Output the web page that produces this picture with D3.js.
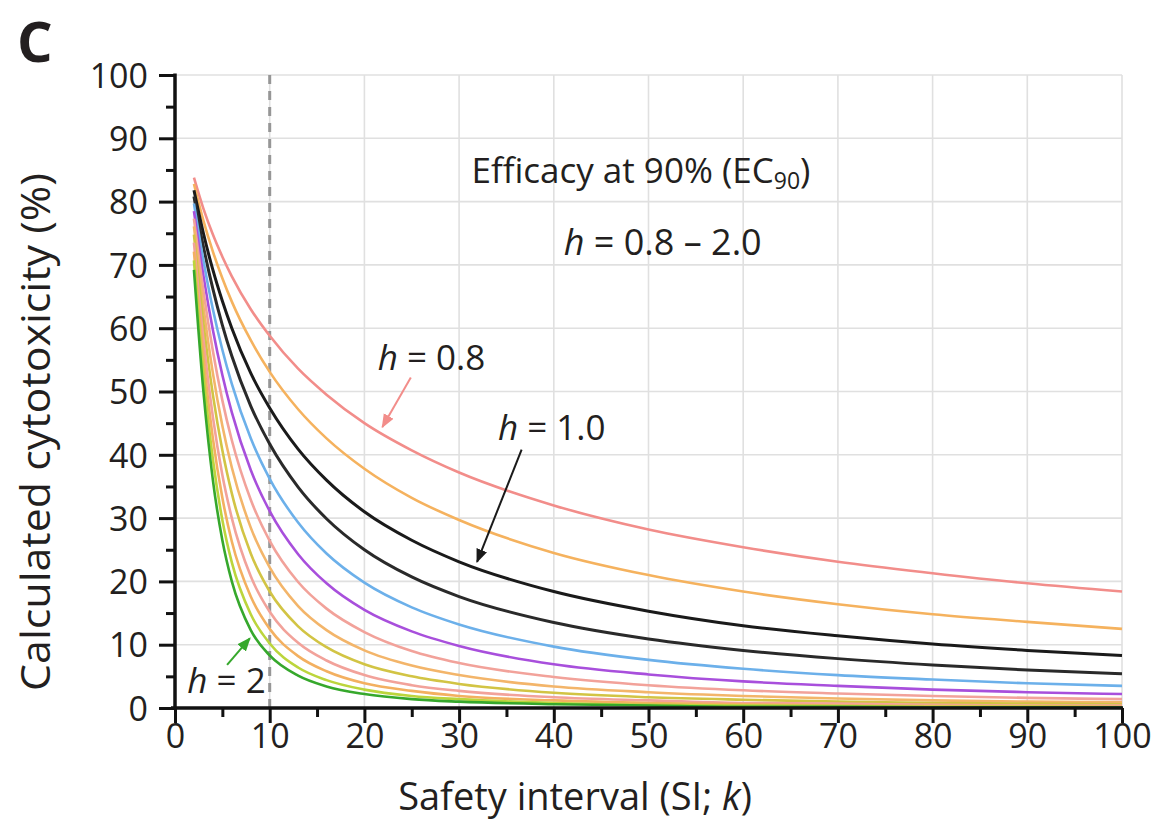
<!DOCTYPE html>
<html>
<head>
<meta charset="utf-8">
<script src="https://cdn.jsdelivr.net/npm/d3@7"></script>
<style>
  html, body { margin: 0; padding: 0; background: #fff; }
  svg text { font-family: "Open Sans", "Noto Sans", sans-serif; fill: #231f20; }
</style>
</head>
<body>
<svg id="chart" width="1159" height="830"></svg>
<script>
// safety interval k where values were read
const siPoints = [2, 3, 4, 5, 6, 8, 10, 13, 16, 20, 25, 30, 40, 50, 60, 70, 80, 90, 100];

// calculated cytotoxicity (%) per hill slope
const tox08 = [83.8, 78.9, 74.8, 71.3, 68.2, 63.0, 58.8, 53.6, 49.5, 45.0, 40.7, 37.2, 32.0, 28.2, 25.4, 23.1, 21.3, 19.7, 18.4];
const tox09 = [82.8, 77.0, 72.1, 67.9, 64.2, 58.1, 53.1, 47.2, 42.6, 37.8, 33.2, 29.7, 24.5, 21.0, 18.4, 16.4, 14.8, 13.6, 12.5];
const tox10 = [81.8, 75.0, 69.2, 64.3, 60.0, 52.9, 47.4, 40.9, 36.0, 31.0, 26.5, 23.1, 18.4, 15.3, 13.0, 11.4, 10.1, 9.1, 8.3];
const tox11 = [80.8, 72.9, 66.2, 60.5, 55.6, 47.7, 41.7, 34.9, 29.9, 25.0, 20.7, 17.6, 13.5, 10.9, 9.1, 7.8, 6.8, 6.0, 5.4];
const tox12 = [79.7, 70.7, 63.0, 56.6, 51.2, 42.6, 36.2, 29.3, 24.4, 19.8, 15.9, 13.2, 9.7, 7.6, 6.2, 5.2, 4.5, 3.9, 3.5];
const tox13 = [78.5, 68.3, 59.7, 52.6, 46.7, 37.6, 31.1, 24.3, 19.7, 15.5, 12.1, 9.8, 6.9, 5.3, 4.2, 3.5, 2.9, 2.5, 2.2];
const tox14 = [77.3, 65.9, 56.4, 48.6, 42.3, 32.9, 26.4, 19.9, 15.7, 12.0, 9.0, 7.1, 4.9, 3.6, 2.8, 2.3, 1.9, 1.6, 1.4];
const tox15 = [76.1, 63.4, 52.9, 44.6, 38.0, 28.5, 22.2, 16.1, 12.3, 9.1, 6.7, 5.2, 3.4, 2.5, 1.9, 1.5, 1.2, 1.0, 0.9];
const tox16 = [74.8, 60.8, 49.5, 40.7, 33.9, 24.4, 18.4, 12.9, 9.6, 6.9, 5.0, 3.8, 2.4, 1.7, 1.3, 1.0, 0.8, 0.7, 0.6];
const tox17 = [73.5, 58.2, 46.0, 36.8, 30.0, 20.8, 15.2, 10.3, 7.5, 5.2, 3.6, 2.7, 1.7, 1.2, 0.8, 0.7, 0.5, 0.4, 0.4];
const tox18 = [72.1, 55.5, 42.6, 33.2, 26.3, 17.6, 12.5, 8.2, 5.8, 3.9, 2.7, 1.9, 1.2, 0.8, 0.6, 0.4, 0.3, 0.3, 0.2];
const tox19 = [70.7, 52.7, 39.3, 29.7, 23.0, 14.8, 10.2, 6.4, 4.4, 2.9, 1.9, 1.4, 0.8, 0.5, 0.4, 0.3, 0.2, 0.2, 0.1];
const tox20 = [69.2, 50.0, 36.0, 26.5, 20.0, 12.3, 8.3, 5.1, 3.4, 2.2, 1.4, 1.0, 0.6, 0.4, 0.2, 0.2, 0.1, 0.1, 0.1];

const hillSlopes = [0.8, 0.9, 1.0, 1.1, 1.2, 1.3, 1.4, 1.5, 1.6, 1.7, 1.8, 1.9, 2.0];
const curveColors = ["#f28d8a", "#f5b25e", "#1a1a1a", "#2a2a2a", "#6cb0ea", "#a84fdc", "#f2a29a",
                     "#f3b56a", "#d2c444", "#f2a29a", "#f3b060", "#bcd53c", "#36a82c"];

const xTicks = [0, 10, 20, 30, 40, 50, 60, 70, 80, 90, 100];
const yTicks = [0, 10, 20, 30, 40, 50, 60, 70, 80, 90, 100];

const allTox = [tox08, tox09, tox10, tox11, tox12, tox13, tox14, tox15, tox16, tox17, tox18, tox19, tox20];
const series = hillSlopes.map((h, i) => ({
  h: h,
  color: curveColors[i],
  points: siPoints.map((k, j) => ({ k: k, v: allTox[i][j] }))
}));

const margin = { top: 75, right: 37, bottom: 122, left: 175 };
const width = 1159, height = 830;

const svg = d3.select("#chart");

const xScale = d3.scaleLinear().domain([0, 100]).range([margin.left, width - margin.right]);
const yScale = d3.scaleLinear().domain([0, 100]).range([height - margin.bottom, margin.top]);

// grid
svg.append("g")
  .selectAll("line.vgrid")
  .data(xTicks.filter(d => d > 0))
  .join("line")
  .attr("x1", d => xScale(d)).attr("x2", d => xScale(d))
  .attr("y1", yScale(0)).attr("y2", yScale(100))
  .attr("stroke", "#e0e0e0").attr("stroke-width", 1.6);

svg.append("g")
  .selectAll("line.hgrid")
  .data(yTicks.filter(d => d > 0))
  .join("line")
  .attr("x1", xScale(0)).attr("x2", xScale(100))
  .attr("y1", d => yScale(d)).attr("y2", d => yScale(d))
  .attr("stroke", "#e0e0e0").attr("stroke-width", 1.6);

// dashed line at SI = 10
svg.append("line")
  .attr("x1", xScale(10)).attr("x2", xScale(10))
  .attr("y1", yScale(0)).attr("y2", yScale(100))
  .attr("stroke", "#969696").attr("stroke-width", 3)
  .attr("stroke-dasharray", "9,7");

// curves
var line = d3.line()
  .x(d => xScale(d.k))
  .y(d => yScale(d.v))
  .curve(d3.curveMonotoneX);

svg.append("g")
  .selectAll("path")
  .data(series)
  .join("path")
  .attr("fill", "none")
  .attr("stroke", d => d.color)
  .attr("stroke-width", d => (d.h === 1.0 || d.h === 1.1) ? 3 : 2.6)
  .attr("stroke-linejoin", "round")
  .attr("d", d => line(d.points));

// axes
const xAxis = d3.axisBottom(xScale)
  .tickValues(d3.range(0, 101, 5))
  .tickSize(0)
  .tickFormat(d => d % 10 === 0 ? d : "");

const gx = svg.append("g")
  .attr("transform", `translate(0,${yScale(0)})`)
  .call(xAxis);
gx.select(".domain").remove();
gx.selectAll(".tick line")
  .attr("y2", d => d % 10 === 0 ? 15 : 9)
  .attr("stroke", "#111").attr("stroke-width", 3);
gx.selectAll(".tick text")
  .attr("y", 16)
  .attr("font-size", 34)
  .attr("fill", "#231f20");

const yAxis = d3.axisLeft(yScale)
  .tickValues(d3.range(0, 101, 5))
  .tickSize(0)
  .tickFormat(d => d % 10 === 0 ? d : "");

const gy = svg.append("g")
  .attr("transform", `translate(${xScale(0)},0)`)
  .call(yAxis);
gy.select(".domain").remove();
gy.selectAll(".tick line")
  .attr("x2", d => d % 10 === 0 ? -16 : -9)
  .attr("stroke", "#111").attr("stroke-width", 3);
gy.selectAll(".tick text")
  .attr("x", -27)
  .attr("dy", "0.36em")
  .attr("font-size", 34)
  .attr("fill", "#231f20");

svg.append("line")
  .attr("x1", xScale(0)).attr("x2", xScale(0))
  .attr("y1", yScale(100) - 1.5).attr("y2", yScale(0) + 1.5)
  .attr("stroke", "#111").attr("stroke-width", 3.5);
svg.append("line")
  .attr("x1", xScale(0) - 4).attr("x2", xScale(100) + 1)
  .attr("y1", yScale(0)).attr("y2", yScale(0))
  .attr("stroke", "#111").attr("stroke-width", 3.5);

// axis titles
svg.append("text")
  .attr("x", 575).attr("y", 810)
  .attr("text-anchor", "middle")
  .attr("font-size", 38)
  .html('Safety interval (SI; <tspan font-style="italic">k</tspan>)');

svg.append("text")
  .attr("transform", "translate(50,432) rotate(-90)")
  .attr("text-anchor", "middle")
  .attr("font-size", 40)
  .attr("textLength", 518)
  .attr("lengthAdjust", "spacingAndGlyphs")
  .text("Calculated cytotoxicity (%)");

// panel letter
svg.append("text")
  .attr("x", 17).attr("y", 62)
  .attr("font-size", 56).attr("font-weight", "bold")
  .text("C");

// headings inside the plot
svg.append("text")
  .attr("x", xScale(49.2)).attr("y", yScale(82.9))
  .attr("text-anchor", "middle")
  .attr("font-size", 35)
  .html('Efficacy at 90% (EC<tspan font-size="23" dy="6">90</tspan><tspan dy="-6">)</tspan>');

svg.append("text")
  .attr("x", xScale(51.5)).attr("y", yScale(71.6))
  .attr("text-anchor", "middle")
  .attr("font-size", 36)
  .html('<tspan font-style="italic">h</tspan> = 0.8 – 2.0');

// arrow markers
const defs = svg.append("defs");
function addMarker(id, color) {
  defs.append("marker")
    .attr("id", id)
    .attr("viewBox", "0 0 10 10")
    .attr("refX", 9).attr("refY", 5)
    .attr("markerWidth", 14).attr("markerHeight", 14)
    .attr("markerUnits", "userSpaceOnUse")
    .attr("orient", "auto")
    .append("path")
    .attr("d", "M0,1 L10,5 L0,9 Z")
    .attr("fill", color);
}
addMarker("arrPink", "#f28d8a");
addMarker("arrBlack", "#1a1a1a");
addMarker("arrGreen", "#36a82c");

const labels = [
  { text: "0.8", x: 21.4, y: 53.4, color: "#f28d8a", marker: "arrPink", from: [24.9, 52.2], to: [21.9, 44.4] },
  { text: "1.0", x: 34.1, y: 42.3, color: "#1a1a1a", marker: "arrBlack", from: [36.6, 40.8], to: [31.9, 23.1] },
  { text: "2", x: 1.3, y: 2.4, color: "#36a82c", marker: "arrGreen", from: [5.5, 6.8], to: [7.9, 11.0] }
];

labels.forEach(l => {
  svg.append("text")
    .attr("x", xScale(l.x)).attr("y", yScale(l.y))
    .attr("font-size", 35)
    .html(`<tspan font-style="italic">h</tspan> = ${l.text}`);
  svg.append("line")
    .attr("x1", xScale(l.from[0])).attr("y1", yScale(l.from[1]))
    .attr("x2", xScale(l.to[0])).attr("y2", yScale(l.to[1]))
    .attr("stroke", l.color).attr("stroke-width", 2)
    .attr("marker-end", `url(#${l.marker})`);
});
</script>
</body>
</html>
